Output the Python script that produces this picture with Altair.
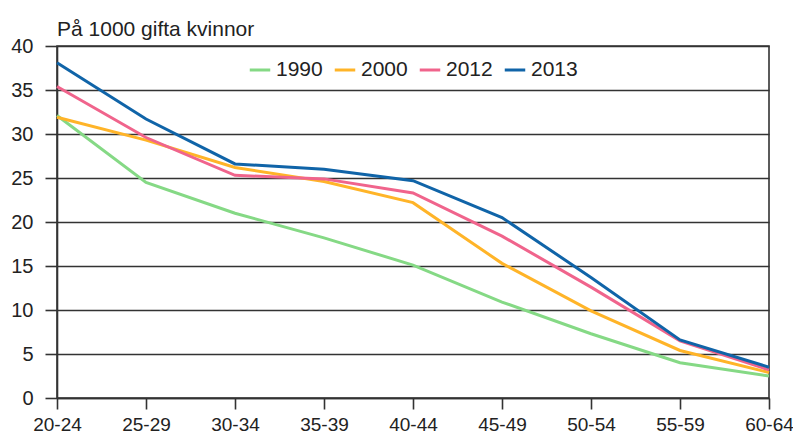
import altair as alt
import pandas as pd

age_groups = ["20-24", "25-29", "30-34", "35-39", "40-44", "45-49", "50-54", "55-59", "60-64"]
years = ["1990", "2000", "2012", "2013"]
v1990 = [32.1, 24.5, 21.0, 18.2, 15.1, 10.9, 7.3, 4.0, 2.5]
v2000 = [31.9, 29.3, 26.2, 24.6, 22.2, 15.3, 9.9, 5.4, 2.9]
v2012 = [35.4, 29.6, 25.3, 24.9, 23.3, 18.4, 12.6, 6.5, 3.2]
v2013 = [38.1, 31.7, 26.6, 26.0, 24.7, 20.5, 13.7, 6.6, 3.5]
colors = ["#85d985", "#ffb428", "#f0648c", "#1064a8"]

rows = []
for yr, vals in zip(years, [v1990, v2000, v2012, v2013]):
    for a, v in zip(age_groups, vals):
        rows.append({"age": a, "year": yr, "value": v})
df = pd.DataFrame(rows)

chart = alt.Chart(df).mark_line(strokeWidth=3).encode(
    x=alt.X("age:N", sort=age_groups, title=None,
            scale=alt.Scale(type="point", padding=0),
            axis=alt.Axis(labelAngle=0, grid=False, tickSize=11, labelPadding=6, labelFontSize=19,
                          domainColor="#333", tickColor="#333", domainWidth=1.6, tickWidth=1.6)),
    y=alt.Y("value:Q", title=None,
            scale=alt.Scale(domain=[0, 40], nice=False),
            axis=alt.Axis(values=[0, 5, 10, 15, 20, 25, 30, 35, 40], tickSize=12, labelPadding=12,
                          grid=True, gridColor="#333", gridWidth=1.6,
                          domainColor="#333", tickColor="#333", domainWidth=1.6, tickWidth=1.6)),
    color=alt.Color("year:N", scale=alt.Scale(domain=years, range=colors),
                    legend=alt.Legend(title=None, orient="none", direction="horizontal",
                                      legendX=191, legendY=12, symbolType="stroke",
                                      symbolSize=420, symbolStrokeWidth=3, labelFontSize=21,
                                      labelOffset=4, columnPadding=5, padding=0,
                                      labelColor="#222", labelFont="Liberation Sans")),
).properties(
    width=712, height=352,
    title=alt.TitleParams("På 1000 gifta kvinnor", anchor="start", frame="group",
                          fontSize=21, font="Liberation Sans", fontWeight="normal",
                          color="#222", offset=9, dy=13),
    autosize=alt.AutoSizeParams(type="none"),
    padding={"left": 49, "top": 38, "right": 24, "bottom": 36},
).configure_view(
    stroke="#333", strokeWidth=1.6
).configure_axis(
    labelFont="Liberation Sans", labelFontSize=20, labelColor="#222"
)

chart.save("out.html", embed_options={"renderer": "svg", "actions": False})
